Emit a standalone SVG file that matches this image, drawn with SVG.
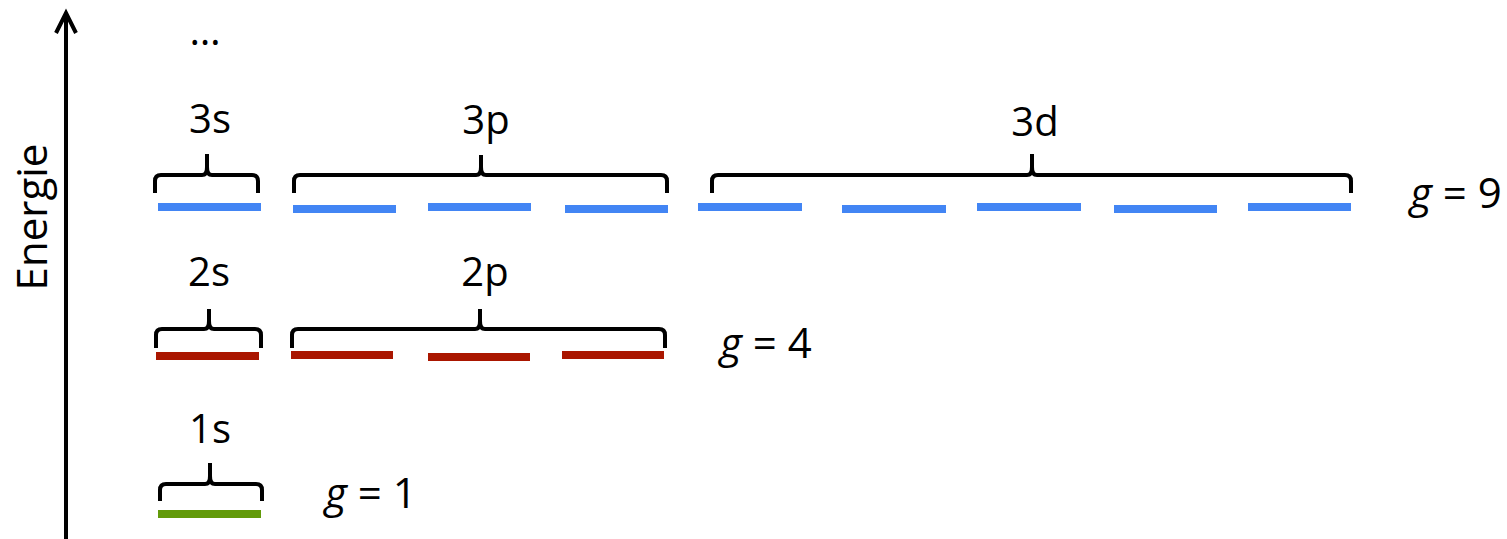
<svg xmlns="http://www.w3.org/2000/svg" width="1507" height="539" viewBox="0 0 1507 539">
<style>
text{font-family:"Open Sans","Liberation Sans",sans-serif;font-size:40px;fill:#000}
.lbl{text-anchor:middle}
.it{font-style:italic}
.big{font-size:42px}
.brace{fill:none;stroke:#000;stroke-width:4;stroke-linejoin:round}
.b{fill:#4285F4}
.r{fill:#AA1600}
.gr{fill:#629A0A}
.axis{fill:none;stroke:#000;stroke-width:4}
</style>
<rect width="1507" height="539" fill="#fff"/>
<g id="connectors">
<line class="axis" x1="66" y1="14" x2="66" y2="539"/>
<polyline class="axis" points="56,33 66,13 76,33"/>
</g>
<g id="axis-label"><text class="lbl big" transform="translate(47,217) rotate(-90)">Energie</text></g>
<g id="dots"><text class="lbl" x="205" y="45">…</text></g>
<g id="n1s">
<text class="lbl" x="210" y="443">1s</text>
<path class="brace" d="M160,501 V490 Q160,484 166,484 H205 Q210,484 210,476 V463 M210,476 Q210,484 215,484 H256 Q262,484 262,490 V501"/>
<rect class="gr" x="158" y="510" width="103" height="8"/>
<text class="big" x="325" y="508"><tspan class="it">g</tspan> = 1</text>
</g>
<g id="n2s">
<text class="lbl" x="209" y="286">2s</text>
<path class="brace" d="M156,348 V335 Q156,329 162,329 H204 Q209,329 209,321 V309 M209,321 Q209,329 214,329 H255 Q261,329 261,335 V348"/>
<rect class="r" x="156" y="352" width="103" height="8"/>
</g>
<g id="n2p">
<text class="lbl" x="485" y="286">2p</text>
<path class="brace" d="M292,348 V335 Q292,329 298,329 H475 Q480,329 480,321 V309 M480,321 Q480,329 485,329 H659 Q665,329 665,335 V348"/>
<rect class="r" x="291" y="351" width="102" height="8"/>
<rect class="r" x="428" y="353" width="102" height="8"/>
<rect class="r" x="562" y="351" width="102" height="8"/>
<text class="big" x="720" y="358"><tspan class="it">g</tspan> = 4</text>
</g>
<g id="n3s">
<text class="lbl" x="210" y="133">3s</text>
<path class="brace" d="M155,193 V181 Q155,175 161,175 H202 Q207,175 207,167 V154 M207,167 Q207,175 212,175 H252 Q258,175 258,181 V193"/>
<rect class="b" x="158" y="203" width="103" height="8"/>
</g>
<g id="n3p">
<text class="lbl" x="486" y="134">3p</text>
<path class="brace" d="M294,193 V181 Q294,175 300,175 H476 Q481,175 481,167 V155 M481,167 Q481,175 486,175 H661 Q667,175 667,181 V193"/>
<rect class="b" x="293" y="205" width="103" height="8"/>
<rect class="b" x="428" y="203" width="103" height="8"/>
<rect class="b" x="565" y="205" width="103" height="8"/>
</g>
<g id="n3d">
<text class="lbl" x="1035" y="136">3d</text>
<path class="brace" d="M712,193 V181 Q712,175 718,175 H1027 Q1032,175 1032,167 V154 M1032,167 Q1032,175 1037,175 H1345 Q1351,175 1351,181 V193"/>
<rect class="b" x="698" y="203" width="104" height="8"/>
<rect class="b" x="842" y="205" width="104" height="8"/>
<rect class="b" x="977" y="203" width="104" height="8"/>
<rect class="b" x="1114" y="205" width="103" height="8"/>
<rect class="b" x="1248" y="203" width="103" height="8"/>
<text class="big" x="1410" y="208"><tspan class="it">g</tspan> = 9</text>
</g>
</svg>
